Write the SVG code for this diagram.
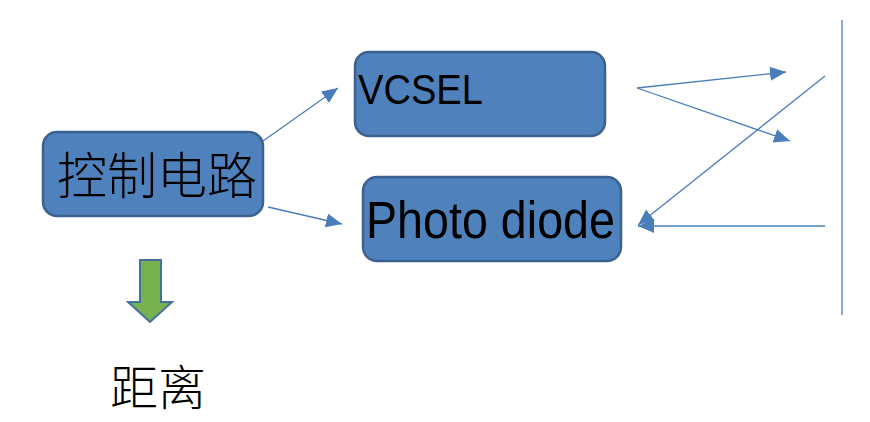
<svg xmlns="http://www.w3.org/2000/svg" width="870" height="422" viewBox="0 0 870 422">
<defs>
<style>
.box{fill:#4F81BD;stroke:#3A6190;stroke-width:2.5}
.cn{fill:none;stroke:#4A7EBB;stroke-width:1.3}
.t{fill:#000;font-family:"Liberation Sans","Noto Sans CJK SC",sans-serif}
.c{fill:#000;font-family:"Noto Sans CJK SC",sans-serif;font-weight:300}
</style>
<marker id="ah" markerUnits="userSpaceOnUse" markerWidth="18" markerHeight="16" refX="16" refY="7" orient="auto">
<path d="M0,0 L16,7 L0,14 Z" fill="#4A7EBB"/>
</marker>
</defs>
<rect width="870" height="422" fill="#fff"/>
<g id="ctrl">
<rect class="box" x="43" y="132" width="220" height="84" rx="14"/>
<text class="c" x="57" y="194" font-size="50" textLength="200">控制电路</text>
</g>
<g id="vcsel">
<rect class="box" x="355" y="52" width="250" height="84" rx="14"/>
<text class="t" x="358" y="104" font-size="43" textLength="125" lengthAdjust="spacingAndGlyphs">VCSEL</text>
</g>
<g id="pd">
<rect class="box" x="363" y="177" width="258" height="84" rx="14"/>
<text class="t" x="366" y="238" font-size="51" textLength="249" lengthAdjust="spacingAndGlyphs">Photo diode</text>
</g>
<g id="mirror">
<line x1="842" y1="20" x2="842" y2="315" stroke="#4A7EBB" stroke-width="1.3"/>
</g>
<g id="distance">
<path d="M140,260 H161 V302 H172 L150,322 L128,302 H140 Z" fill="#77B150" stroke="#41719C" stroke-width="2"/>
<text class="c" x="110" y="405" font-size="48">距离</text>
</g>
<g id="connectors">
<line class="cn" x1="263" y1="141" x2="338" y2="88" marker-end="url(#ah)"/>
<line class="cn" x1="268" y1="207" x2="342" y2="224" marker-end="url(#ah)"/>
<line class="cn" x1="637" y1="88" x2="786" y2="72" marker-end="url(#ah)"/>
<line class="cn" x1="637" y1="88" x2="790" y2="141" marker-end="url(#ah)"/>
<line class="cn" x1="825" y1="76" x2="638" y2="225" marker-end="url(#ah)"/>
<line class="cn" x1="825" y1="226" x2="638" y2="226" marker-end="url(#ah)"/>
</g>
</svg>
